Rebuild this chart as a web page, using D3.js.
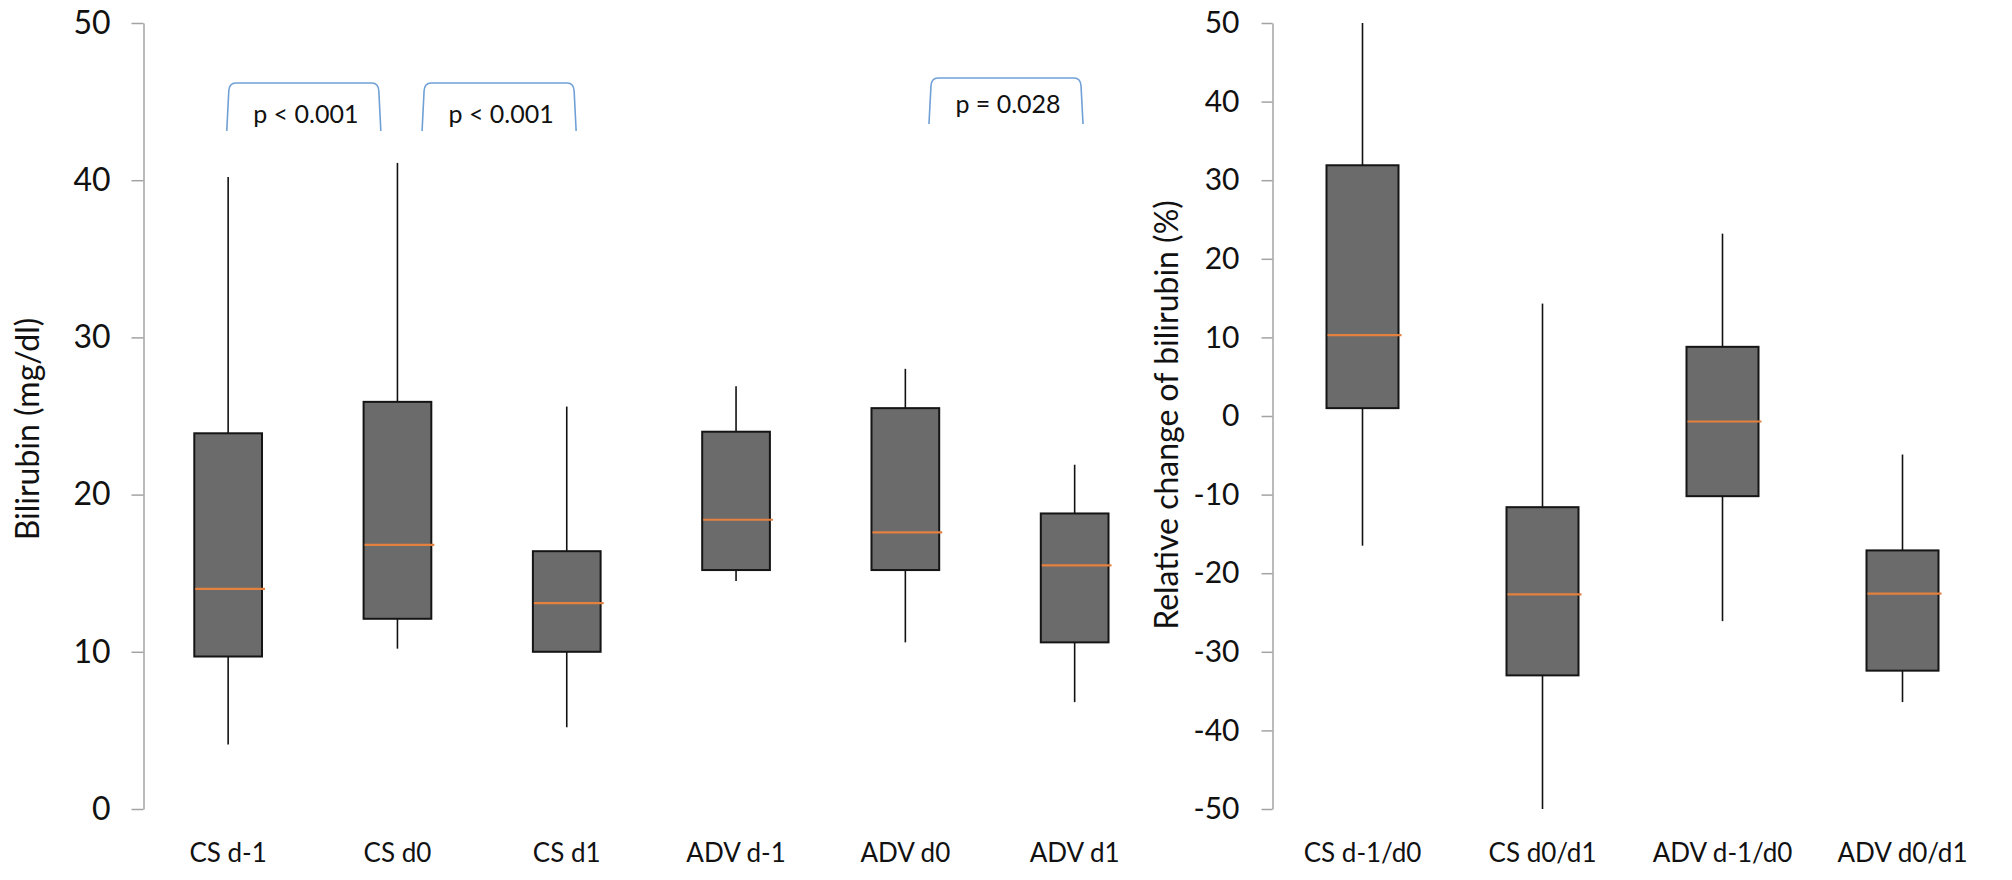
<!DOCTYPE html>
<html>
<head>
<meta charset="utf-8">
<script src="https://cdn.jsdelivr.net/npm/d3@7/dist/d3.min.js"></script>
<style>
  html, body { margin: 0; padding: 0; background: #fff; }
  svg { display: block; font-family: Lato, "Open Sans", sans-serif; }
</style>
</head>
<body>
<svg id="chart" width="2012" height="880"></svg>
<script>
// ---------- data ----------
const leftCategories = ["CS d-1", "CS d0", "CS d1", "ADV d-1", "ADV d0", "ADV d1"];
const leftMin    = [4.1, 10.2, 5.2, 14.5, 10.6, 6.8];
const leftQ1     = [9.7, 12.1, 10.0, 15.2, 15.2, 10.6];
const leftMedian = [14.0, 16.8, 13.1, 18.4, 17.6, 15.5];
const leftQ3     = [23.9, 25.9, 16.4, 24.0, 25.5, 18.8];
const leftMax    = [40.2, 41.1, 25.6, 26.9, 28.0, 21.9];
const leftTicks  = [0, 10, 20, 30, 40, 50];
const leftTitle  = "Bilirubin (mg/dl)";

const rightCategories = ["CS d-1/d0", "CS d0/d1", "ADV d-1/d0", "ADV d0/d1"];
const rightMin    = [-16.5, -50.0, -26.1, -36.4];
const rightQ1     = [1.0, -33.0, -10.2, -32.4];
const rightMedian = [10.3, -22.7, -0.7, -22.6];
const rightQ3     = [31.9, -11.6, 8.8, -17.1];
const rightMax    = [50.0, 14.3, 23.2, -4.9];
const rightTicks  = [-50, -40, -30, -20, -10, 0, 10, 20, 30, 40, 50];
const rightTitle  = "Relative change of bilirubin (%)";

const pFrom   = ["CS d-1", "CS d0", "ADV d0"];
const pTo     = ["CS d0", "CS d1", "ADV d1"];
const pLabels = ["p < 0.001", "p < 0.001", "p = 0.028"];

// ---------- layout ----------
const svg = d3.select("#chart");
const plotTop = 23, plotBottom = 809;
const boxFill = "#6b6b6b", medianColor = "#e5803f", axisColor = "#a3a3a3";
const bracketColor = "#6fa0d6";
const bracketNudge = [-9, 17, 16];       // annotation placement tweaks (px)
const bracketTop = [83, 83, 78];
const bracketBottom = [131, 131, 124];
const bracketTextY = [123, 123, 113];

function rows(cats, mn, q1, md, q3, mx) {
  return cats.map((c, i) => ({ cat: c, min: mn[i], q1: q1[i], med: md[i], q3: q3[i], max: mx[i] }));
}

function drawPanel(cfg) {
  const g = svg.append("g");
  const x = d3.scaleBand().domain(cfg.cats).range([cfg.x0, cfg.x1])
    .paddingInner(0.6).paddingOuter(0.3);
  const y = d3.scaleLinear().domain(cfg.domain).range([plotBottom, plotTop]);

  // axis
  const ax = g.append("g").attr("transform", `translate(${cfg.x0},0)`)
    .call(d3.axisLeft(y).tickValues(cfg.ticks).tickSize(cfg.tickSize).tickSizeOuter(0)
      .tickPadding(cfg.tickPad).tickFormat(d => String(d)));
  ax.select(".domain").attr("stroke", axisColor).attr("stroke-width", 1.5);
  ax.selectAll(".tick line").attr("stroke", axisColor).attr("stroke-width", 1.5);
  ax.selectAll(".tick text").attr("fill", "#111").style("font-size", cfg.tickFont + "px")
    .style("font-family", "Lato, sans-serif");

  const data = rows(cfg.cats, cfg.mn, cfg.q1, cfg.md, cfg.q3, cfg.mx);
  const bw = x.bandwidth();
  const cx = d => x(d.cat) + bw / 2;

  const b = g.selectAll(".box").data(data).join("g").attr("class", "box");
  // whiskers
  b.append("line").attr("x1", cx).attr("x2", cx)
    .attr("y1", d => y(d.max)).attr("y2", d => y(d.q3))
    .attr("stroke", "#111").attr("stroke-width", 1.6);
  b.append("line").attr("x1", cx).attr("x2", cx)
    .attr("y1", d => y(d.q1)).attr("y2", d => y(d.min))
    .attr("stroke", "#111").attr("stroke-width", 1.6);
  // box
  b.append("rect").attr("x", d => x(d.cat)).attr("width", bw)
    .attr("y", d => y(d.q3)).attr("height", d => y(d.q1) - y(d.q3))
    .attr("fill", boxFill).attr("stroke", "#151515").attr("stroke-width", 2);
  // median
  b.append("line").attr("x1", d => x(d.cat) + 1).attr("x2", d => x(d.cat) + bw + 3)
    .attr("y1", d => y(d.med)).attr("y2", d => y(d.med))
    .attr("stroke", medianColor).attr("stroke-width", 2.2);

  // category labels
  g.selectAll(".xl").data(data).join("text").attr("class", "xl")
    .attr("x", cx).attr("y", 862).attr("text-anchor", "middle")
    .style("font-size", cfg.labelFont + "px").attr("fill", "#111")
    .text(d => d.cat);

  // y title
  g.append("text")
    .attr("transform", `translate(${cfg.titleX},${cfg.titleY}) rotate(-90)`)
    .attr("text-anchor", "middle").style("font-size", cfg.titleFont + "px")
    .attr("fill", "#111").text(cfg.title);

  return { x, y, bw };
}

const L = drawPanel({
  cats: leftCategories, mn: leftMin, q1: leftQ1, md: leftMedian, q3: leftQ3, mx: leftMax,
  domain: [0, 50], ticks: leftTicks, x0: 143.5, x1: 1159.3, tickSize: 12, tickPad: 21,
  tickFont: 32, labelFont: 26, title: leftTitle, titleX: 39, titleY: 429, titleFont: 32
});
const R = drawPanel({
  cats: rightCategories, mn: rightMin, q1: rightQ1, md: rightMedian, q3: rightQ3, mx: rightMax,
  domain: [-50, 50], ticks: rightTicks, x0: 1272.5, x1: 1992.5, tickSize: 11, tickPad: 22,
  tickFont: 30, labelFont: 26, title: rightTitle, titleX: 1178, titleY: 415, titleFont: 32
});

// significance brackets
const step = L.x.step();
pLabels.forEach((lab, i) => {
  const a = L.x(pFrom[i]) + L.bw / 2, bb = L.x(pTo[i]) + L.bw / 2;
  const mid = (a + bb) / 2 + bracketNudge[i];
  const half = 0.455 * step;
  const x0 = mid - half, x1 = mid + half, yt = bracketTop[i], yb = bracketBottom[i];
  const path = d3.path();
  path.moveTo(x0, yb);
  path.lineTo(x0 + 2, yt + 8);
  path.quadraticCurveTo(x0 + 2.5, yt, x0 + 9, yt);
  path.lineTo(x1 - 9, yt);
  path.quadraticCurveTo(x1 - 2.5, yt, x1 - 2, yt + 8);
  path.lineTo(x1, yb);
  svg.append("path").attr("d", path.toString()).attr("fill", "none")
    .attr("stroke", bracketColor).attr("stroke-width", 1.6);
  svg.append("text").attr("x", mid + 2).attr("y", bracketTextY[i])
    .attr("text-anchor", "middle").style("font-size", "25px").attr("fill", "#111")
    .text(lab);
});
</script>
</body>
</html>
